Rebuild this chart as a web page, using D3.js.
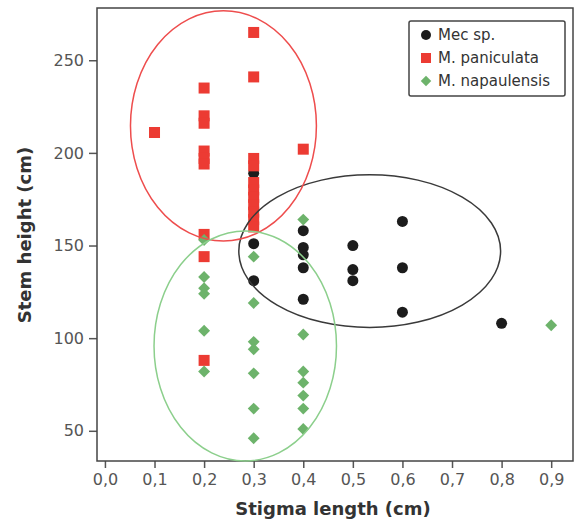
<!DOCTYPE html>
<html>
<head>
<meta charset="utf-8">
<script src="https://cdn.jsdelivr.net/npm/d3@7"></script>
<style>
    body { margin: 0; background: #fff; }
    svg { display: block; font-family: "DejaVu Sans", Verdana, sans-serif; }
</style>
</head>
<body>
<div id="chart"></div>
<script>
// [stigma length, stem height]
const mecSp = [
    [0.3, 189], [0.3, 151], [0.3, 131],
    [0.4, 158], [0.4, 149], [0.4, 145], [0.4, 138], [0.4, 121],
    [0.5, 150], [0.5, 137], [0.5, 131],
    [0.6, 163], [0.6, 138], [0.6, 114],
    [0.8, 108]
];
const paniculata = [
    [0.1, 211],
    [0.2, 235], [0.2, 220], [0.2, 216], [0.2, 201], [0.2, 197], [0.2, 194], [0.2, 156], [0.2, 144], [0.2, 88],
    [0.3, 265], [0.3, 241], [0.3, 197], [0.3, 193], [0.3, 184], [0.3, 180], [0.3, 176], [0.3, 172],
    [0.3, 168], [0.3, 164], [0.3, 160],
    [0.4, 202]
];
const napaulensis = [
    [0.2, 153], [0.2, 133], [0.2, 127], [0.2, 124], [0.2, 104], [0.2, 82],
    [0.3, 144], [0.3, 119], [0.3, 98], [0.3, 94], [0.3, 81], [0.3, 62], [0.3, 46],
    [0.4, 164], [0.4, 102], [0.4, 82], [0.4, 76], [0.4, 69], [0.4, 62], [0.4, 51],
    [0.9, 107]
];

const seriesNames = ['Mec sp.', 'M. paniculata', 'M. napaulensis'];
// ellipse centre and radii in data units, one per series
const ellipseCx = [0.534, 0.239, 0.283];
const ellipseCy = [147, 214.6, 95.8];
const ellipseRx = [0.264, 0.1875, 0.184];
const ellipseRy = [41.2, 62.1, 62.1];

const xTicks = [0, 0.1, 0.2, 0.3, 0.4, 0.5, 0.6, 0.7, 0.8, 0.9];
const yTicks = [50, 100, 150, 200, 250];

const width = 576, height = 525;
const plot = { left: 97, right: 573, top: 8, bottom: 461 };

const svg = d3.select('#chart').append('svg')
    .attr('width', width)
    .attr('height', height);

const x = d3.scaleLinear().domain([-0.016, 0.944]).range([plot.left, plot.right]);
const y = d3.scaleLinear().domain([33.7, 278.2]).range([plot.bottom, plot.top]);

const pointColors = ['#1c1c1c', '#ec3b33', '#6db36b'];
const ellipseColors = ['#3a3a3a', '#ee4d4d', '#8ccf8c'];

// axes
const fmt = d => d.toFixed(1).replace('.', ',');

const xAxis = svg.append('g')
    .attr('transform', `translate(0,${plot.bottom})`)
    .call(d3.axisBottom(x).tickValues(xTicks).tickFormat(fmt).tickSize(7).tickPadding(6));

const yAxis = svg.append('g')
    .attr('transform', `translate(${plot.left},0)`)
    .call(d3.axisLeft(y).tickValues(yTicks).tickSize(8).tickPadding(5));

[xAxis, yAxis].forEach(g => {
    g.select('.domain').remove();
    g.selectAll('line').attr('stroke', '#555').attr('stroke-width', 1.5);
    g.selectAll('text')
        .attr('fill', '#555')
        .style('font-size', '16px')
        .style('font-family', '"DejaVu Sans", Verdana, sans-serif');
});

svg.append('rect')
    .attr('x', plot.left)
    .attr('y', plot.top)
    .attr('width', plot.right - plot.left)
    .attr('height', plot.bottom - plot.top)
    .attr('fill', 'none')
    .attr('stroke', '#444')
    .attr('stroke-width', 1.5);

svg.append('text')
    .attr('x', 333)
    .attr('y', 515)
    .attr('text-anchor', 'middle')
    .attr('fill', '#333')
    .style('font-size', '18px')
    .style('font-weight', 'bold')
    .text('Stigma length (cm)');

svg.append('text')
    .attr('transform', 'translate(31,235) rotate(-90)')
    .attr('text-anchor', 'middle')
    .attr('fill', '#333')
    .style('font-size', '18px')
    .style('font-weight', 'bold')
    .text('Stem height (cm)');

// points
const diamond = d3.symbol().type(d3.symbolDiamond2).size(90);

svg.append('g').selectAll('circle')
    .data(mecSp)
    .join('circle')
    .attr('cx', d => x(d[0]))
    .attr('cy', d => y(d[1]))
    .attr('r', 5.5)
    .attr('fill', pointColors[0]);

svg.append('g').selectAll('rect')
    .data(paniculata)
    .join('rect')
    .attr('x', d => x(d[0]) - 5.5)
    .attr('y', d => y(d[1]) - 5.5)
    .attr('width', 11)
    .attr('height', 11)
    .attr('fill', pointColors[1]);

svg.append('g').selectAll('path')
    .data(napaulensis)
    .join('path')
    .attr('transform', d => `translate(${x(d[0])},${y(d[1])})`)
    .attr('d', diamond)
    .attr('fill', pointColors[2]);

// ellipses
svg.append('g').selectAll('ellipse')
    .data(d3.range(seriesNames.length))
    .join('ellipse')
    .attr('cx', i => x(ellipseCx[i]))
    .attr('cy', i => y(ellipseCy[i]))
    .attr('rx', i => x(ellipseCx[i] + ellipseRx[i]) - x(ellipseCx[i]))
    .attr('ry', i => y(ellipseCy[i]) - y(ellipseCy[i] + ellipseRy[i]))
    .attr('fill', 'none')
    .attr('stroke', i => ellipseColors[i])
    .attr('stroke-width', 1.5);

// legend
const legend = svg.append('g');
legend.append('rect')
    .attr('x', 409)
    .attr('y', 21)
    .attr('width', 156)
    .attr('height', 75)
    .attr('rx', 2)
    .attr('fill', '#fff')
    .attr('stroke', '#444')
    .attr('stroke-width', 1.5);

const items = legend.selectAll('g.item')
    .data(seriesNames)
    .join('g')
    .attr('class', 'item')
    .attr('transform', (d, i) => `translate(426,${35 + i * 23})`);

items.each(function (d, i) {
    const g = d3.select(this);
    if (i === 0) {
        g.append('circle').attr('r', 5).attr('fill', pointColors[0]);
    } else if (i === 1) {
        g.append('rect').attr('x', -5).attr('y', -5).attr('width', 10).attr('height', 10).attr('fill', pointColors[1]);
    } else {
        g.append('path').attr('d', d3.symbol().type(d3.symbolDiamond2).size(70)).attr('fill', pointColors[2]);
    }
});

items.append('text')
    .attr('x', 12)
    .attr('dy', '0.35em')
    .attr('fill', '#333')
    .style('font-size', '15px')
    .text(d => d);
</script>
</body>
</html>
